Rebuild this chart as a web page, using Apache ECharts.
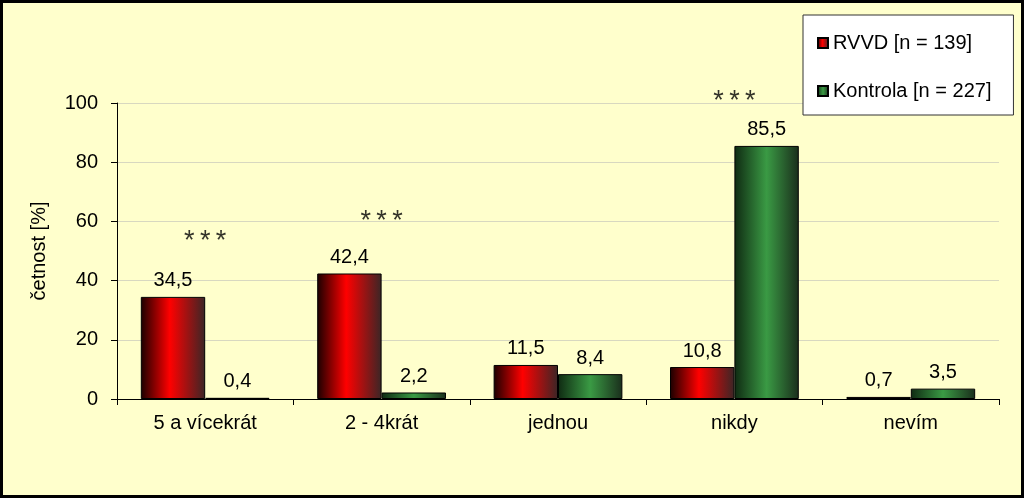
<!DOCTYPE html>
<html><head><meta charset="utf-8">
<script src="https://cdn.jsdelivr.net/npm/echarts@6/dist/echarts.min.js"></script>
<style>html,body{margin:0;padding:0;background:#FFFFCC;}#c{width:1024px;height:498px;}</style>
</head><body><div id="c"></div>
<script>
const categories = ['5 a vícekrát', '2 - 4krát', 'jednou', 'nikdy', 'nevím'];
const rvvd = [34.5, 42.4, 11.5, 10.8, 0.7];
const kontrola = [0.4, 2.2, 8.4, 85.5, 3.5];
const sigLabels = ['***', '***', '', '***', ''];
const sigLevels = [53.2, 60, null, 100.5, null];
const yTicks = [0, 20, 40, 60, 80, 100];

const font = 'Liberation Sans, Arial, sans-serif';
const redGrad = new echarts.graphic.LinearGradient(0,0,1,0,[
  {offset:0,color:'#1a0000'},{offset:0.45,color:'#ff0000'},{offset:1,color:'#3a2626'}]);
const greenGrad = new echarts.graphic.LinearGradient(0,0,1,0,[
  {offset:0,color:'#0f2a12'},{offset:0.5,color:'#3a9a44'},{offset:1,color:'#1a2e1c'}]);
const fmt = p => String(p.value).replace('.', ',');

const chart = echarts.init(document.getElementById('c'));
chart.setOption({
  backgroundColor: '#FFFFCC',
  animation: false,
  textStyle: {fontFamily: font},
  grid: {left: 117, right: 25, top: 103, bottom: 99},
  legend: {
    orient: 'vertical', left: 803, top: 15,
    padding: [18, 22, 14, 14],
    itemGap: 28,
    itemWidth: 10, itemHeight: 10,
    backgroundColor: '#ffffff', borderColor: '#333', borderWidth: 1,
    textStyle: {fontSize: 20, color: '#000', fontFamily: font},
    data: [{name:'RVVD [n = 139]', icon:'rect'}, {name:'Kontrola [n = 227]', icon:'rect'}]
  },
  xAxis: {
    type: 'category', data: categories,
    axisLine: {lineStyle: {color: '#000'}},
    axisTick: {show: true, length: 6, lineStyle: {color: '#000'}},
    axisLabel: {color: '#000', fontSize: 20, margin: 14, fontFamily: font}
  },
  yAxis: {
    type: 'value', min: 0, max: 100, interval: 20,
    name: 'četnost [%]', nameLocation: 'middle', nameGap: 68, nameRotate: 90,
    nameTextStyle: {fontSize: 20, color: '#000', fontFamily: font},
    axisLine: {show: true, lineStyle: {color: '#000'}},
    axisTick: {show: true, length: 6, lineStyle: {color: '#000'}},
    axisLabel: {color: '#000', fontSize: 20, margin: 19, fontFamily: font,
      formatter: v => yTicks.includes(v) ? String(v) : ''},
    splitLine: {lineStyle: {color: '#d8d8c0'}}
  },
  series: [
    {name: 'RVVD [n = 139]', type: 'bar', data: rvvd, barGap: '0%', barCategoryGap: '27%',
     itemStyle: {color: redGrad, borderColor: '#000', borderWidth: 1},
     label: {show: true, position: 'top', distance: 6, fontSize: 20, color: '#000', fontFamily: font, formatter: fmt}},
    {name: 'Kontrola [n = 227]', type: 'bar', data: kontrola,
     itemStyle: {color: greenGrad, borderColor: '#000', borderWidth: 1},
     label: {show: true, position: 'top', distance: 6, fontSize: 20, color: '#000', fontFamily: font, formatter: fmt}},
    {name: 'sig', type: 'scatter', symbolSize: 0, silent: true, clip: false,
     data: sigLevels.map((v,i) => [categories[i], v]).filter(d => d[1] !== null),
     label: {show: true, position: 'inside', fontSize: 27, color: '#000', fontFamily: font,
       formatter: p => sigLabels[categories.indexOf(p.value[0])].split('').join('\u2009')}}
  ],
  graphic: [{type: 'rect', shape: {x: 0, y: 0, width: 1024, height: 498},
    style: {fill: 'none', stroke: '#000', lineWidth: 6}, silent: true, z: 100}]
});
</script></body></html>
